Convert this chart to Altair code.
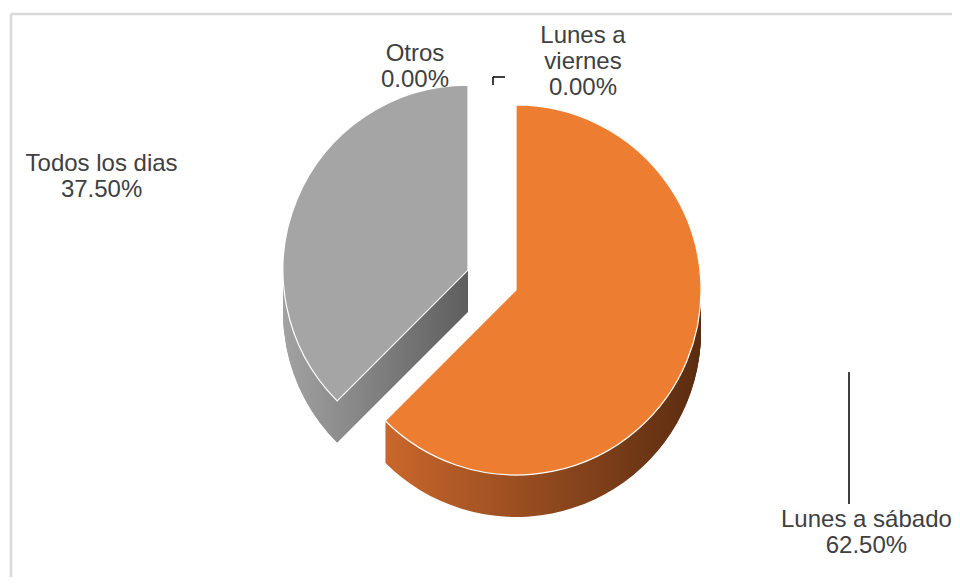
import altair as alt
import pandas as pd

# ---- data ----
categories = ["Lunes a viernes", "Lunes a sábado", "Todos los dias", "Otros"]
label_names = ["Lunes a\nviernes", "Lunes a sábado", "Todos los dias", "Otros"]
values = [0.0, 62.5, 37.5, 0.0]
order = [0, 1, 2, 3]

# ---- styles / layout ----
top_colors = ["#4472C4", "#ED7D31", "#A5A5A5", "#FFC000"]
W, H = 944, 569
CX, CY = 484, 272
R = 185
EXPLODE = 26
DEPTH = 42
RL = 205
FONT = "Liberation Sans"
TXT = "#404040"
label_offsets = {
    "Lunes a viernes": (91, -13),
    "Lunes a sábado": (161, 152),
    "Todos los dias": (-177, -28),
    "Otros": (-77, 5),
}

df = pd.DataFrame({"cat": categories, "name": label_names, "v": values, "order": order})

base = (
    alt.Chart(df)
    .transform_window(cum="sum(v)", sort=[alt.SortField("order")], frame=[None, 0])
    .transform_joinaggregate(total="sum(v)")
    .transform_calculate(
        t0="2*PI*(datum.cum - datum.v)/datum.total",
        t1="2*PI*datum.cum/datum.total",
    )
    .transform_calculate(mid="(datum.t0 + datum.t1)/2")
    .transform_calculate(
        ex=f"{CX} + {EXPLODE}*sin(datum.mid)",
        ey=f"{CY} - {EXPLODE}*cos(datum.mid)",
    )
    .transform_calculate(
        lx=f"datum.ex + {RL}*sin(datum.mid)",
        ly=f"datum.ey - {RL}*cos(datum.mid)",
        label="datum.name + '\\n' + format(datum.v/datum.total, '.2%')",
    )
)

def grad(c0, c1):
    return alt.LinearGradient(
        gradient="linear",
        stops=[alt.GradientStop(offset=0, color=c0), alt.GradientStop(offset=1, color=c1)],
        x1=0, x2=1, y1=0, y2=0,
    )

side = (
    base.transform_filter("datum.v > 0")
    .transform_calculate(k=f"sequence(0, {DEPTH + 1}, 1)")
    .transform_flatten(["k"])
    .transform_calculate(ys="datum.ey + datum.k")
)

side_enc = dict(
    x=alt.X("ex:Q", scale=None),
    y=alt.Y("ys:Q", scale=None),
    theta=alt.Theta("t0:Q", scale=None, stack=False),
    theta2="t1:Q",
)

side_orange = side.transform_filter("datum.cat == 'Lunes a sábado'").mark_arc(
    radius=R, fill=grad("#C9672C", "#5A2C10")
).encode(**side_enc)
side_gray = side.transform_filter("datum.cat == 'Todos los dias'").mark_arc(
    radius=R, fill=grad("#A2A2A2", "#5E5E5E")
).encode(**side_enc)

top = base.transform_filter("datum.v > 0").mark_arc(
    radius=R, stroke="white", strokeWidth=1.2
).encode(
    x=alt.X("ex:Q", scale=None),
    y=alt.Y("ey:Q", scale=None),
    theta=alt.Theta("t0:Q", scale=None, stack=False),
    theta2="t1:Q",
    color=alt.Color("cat:N", scale=alt.Scale(domain=categories, range=top_colors), legend=None),
)

texts = []
for cat in categories:
    dx, dy = label_offsets[cat]
    texts.append(
        base.transform_filter(f"datum.cat == '{cat}'").mark_text(
            font=FONT, fontSize=24, color=TXT, lineBreak="\n", lineHeight=26,
            align="center", baseline="middle", dx=dx, dy=dy,
        ).encode(
            x=alt.X("lx:Q", scale=None),
            y=alt.Y("ly:Q", scale=None),
            text="label:N",
        )
    )

one = pd.DataFrame({"a": [0]})
deco = alt.Chart(one)
border_top = deco.mark_rule(color="#D9D9D9", strokeWidth=2.5).encode(
    x=alt.value(3), x2=alt.value(W), y=alt.value(6))
border_left = deco.mark_rule(color="#D9D9D9", strokeWidth=2.5).encode(
    x=alt.value(3), y=alt.value(6), y2=alt.value(H))
leader1 = deco.mark_rule(color="#000000", strokeWidth=1.5).encode(
    x=alt.value(841), y=alt.value(364), y2=alt.value(496))
leader2 = deco.mark_rule(color="#000000", strokeWidth=1.5).encode(
    x=alt.value(485), y=alt.value(69), y2=alt.value(77))
leader3 = deco.mark_rule(color="#000000", strokeWidth=1.5).encode(
    x=alt.value(485), x2=alt.value(497), y=alt.value(69))

chart = alt.layer(
    border_top, border_left, side_gray, side_orange, top, leader1, leader2, leader3, *texts
).properties(
    width=W, height=H, autosize=alt.AutoSizeParams(type="none"), padding=0,
    background="white",
).configure_view(stroke=None)

chart.save("out.html", embed_options={"renderer": "svg", "actions": False})
